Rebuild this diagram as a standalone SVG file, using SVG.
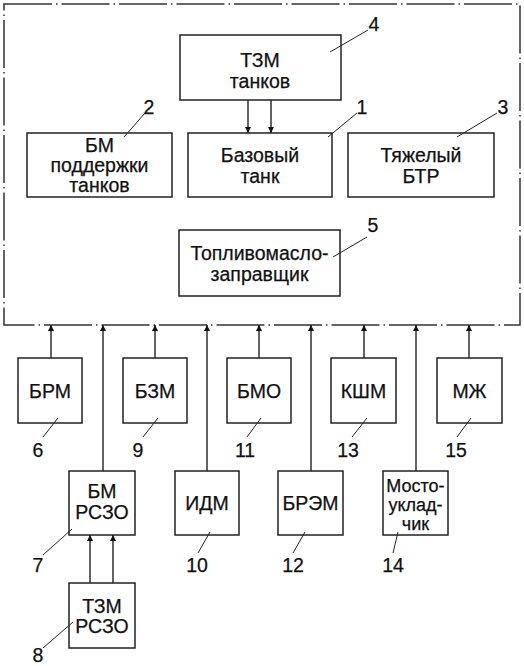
<svg xmlns="http://www.w3.org/2000/svg" width="524" height="666" viewBox="0 0 524 666">
<defs>
<marker id="ah" viewBox="0 0 10 10" refX="10" refY="5" markerWidth="6" markerHeight="9" markerUnits="userSpaceOnUse" orient="auto">
<path d="M0,0 L10,5 L0,10 z" fill="#111"/>
</marker>
</defs>
<style>
rect.b{fill:#fff;stroke:#222;stroke-width:1.5}
text{font-family:"Liberation Sans",Arial,sans-serif;font-size:19.5px;fill:#111;text-anchor:middle;stroke:#111;stroke-width:0.25}
text.n{font-size:19.5px}
text.s{font-size:18px}
.frame{fill:none;stroke:#333;stroke-width:1.5;stroke-dasharray:48 4 1.5 4}
.c line{stroke:#222;stroke-width:1.4}
.ld{stroke:#222;stroke-width:1}
</style>
<rect class="frame" x="4" y="4" width="516" height="321"/>

<g id="n4"><rect class="b" x="180" y="35" width="161" height="65"/><text x="260" y="67">ТЗМ</text><text x="260" y="88">танков</text></g>
<g id="n2"><rect class="b" x="27" y="133" width="145" height="64"/><text x="99.5" y="152">БМ</text><text x="99.5" y="172">поддержки</text><text x="99.5" y="192">танков</text></g>
<g id="n1"><rect class="b" x="188" y="133" width="144" height="64"/><text x="260" y="162">Базовый</text><text x="260" y="183">танк</text></g>
<g id="n3"><rect class="b" x="348" y="133" width="146" height="64"/><text x="421" y="162">Тяжелый</text><text x="421" y="183">БТР</text></g>
<g id="n5"><rect class="b" x="179" y="230" width="161" height="66"/><text x="259.5" y="260">Топливомасло-</text><text x="259.5" y="281">заправщик</text></g>

<g id="n6"><rect class="b" x="18" y="358" width="64" height="65"/><text x="50" y="398">БРМ</text></g>
<g id="n9"><rect class="b" x="123" y="358" width="64" height="65"/><text x="155" y="398">БЗМ</text></g>
<g id="n11"><rect class="b" x="227" y="358" width="64" height="65"/><text x="259" y="398">БМО</text></g>
<g id="n13"><rect class="b" x="331" y="358" width="65" height="65"/><text x="363.5" y="398">КШМ</text></g>
<g id="n15"><rect class="b" x="437" y="358" width="65" height="65"/><text x="469.5" y="398">МЖ</text></g>

<g id="n7"><rect class="b" x="69" y="471" width="66" height="64"/><text x="102" y="498">БМ</text><text x="102" y="519">РСЗО</text></g>
<g id="n10"><rect class="b" x="175" y="471" width="64" height="64"/><text x="207" y="510">ИДМ</text></g>
<g id="n12"><rect class="b" x="278" y="471" width="65" height="64"/><text x="310.5" y="510">БРЭМ</text></g>
<g id="n14"><rect class="b" x="383" y="471" width="65" height="64"/><text class="s" x="415.5" y="492">Мосто-</text><text class="s" x="415.5" y="511">уклад-</text><text class="s" x="415.5" y="530">чик</text></g>
<g id="n8"><rect class="b" x="69" y="583" width="66" height="65"/><text x="102" y="613">ТЗМ</text><text x="102" y="633">РСЗО</text></g>

<g class="c">
<line x1="248" y1="100" x2="248" y2="133" marker-end="url(#ah)"/>
<line x1="271" y1="100" x2="271" y2="133" marker-end="url(#ah)"/>
<line x1="51" y1="358" x2="51" y2="325" marker-end="url(#ah)"/>
<line x1="103" y1="471" x2="103" y2="325" marker-end="url(#ah)"/>
<line x1="155" y1="358" x2="155" y2="325" marker-end="url(#ah)"/>
<line x1="207" y1="471" x2="207" y2="325" marker-end="url(#ah)"/>
<line x1="259" y1="358" x2="259" y2="325" marker-end="url(#ah)"/>
<line x1="311" y1="471" x2="311" y2="325" marker-end="url(#ah)"/>
<line x1="364" y1="358" x2="364" y2="325" marker-end="url(#ah)"/>
<line x1="416" y1="471" x2="416" y2="325" marker-end="url(#ah)"/>
<line x1="469" y1="358" x2="469" y2="325" marker-end="url(#ah)"/>
<line x1="90" y1="583" x2="90" y2="535" marker-end="url(#ah)"/>
<line x1="113" y1="583" x2="113" y2="535" marker-end="url(#ah)"/>
</g>

<g id="labels">
<line class="ld" x1="330" y1="52" x2="368" y2="30"/><text class="n" x="374" y="31">4</text>
<line class="ld" x1="124" y1="137" x2="145" y2="113"/><text class="n" x="149" y="114">2</text>
<line class="ld" x1="328" y1="137" x2="357" y2="113"/><text class="n" x="362" y="114">1</text>
<line class="ld" x1="457" y1="137" x2="497" y2="113"/><text class="n" x="503" y="114">3</text>
<line class="ld" x1="333" y1="257" x2="367" y2="237"/><text class="n" x="373" y="232">5</text>
<line class="ld" x1="58" y1="418" x2="43" y2="437"/><text class="n" x="38" y="457">6</text>
<line class="ld" x1="158" y1="418" x2="143" y2="437"/><text class="n" x="138" y="457">9</text>
<line class="ld" x1="261" y1="418" x2="247" y2="437"/><text class="n" x="245" y="457">11</text>
<line class="ld" x1="367" y1="418" x2="352" y2="437"/><text class="n" x="348" y="457">13</text>
<line class="ld" x1="471" y1="418" x2="457" y2="437"/><text class="n" x="456" y="457">15</text>
<line class="ld" x1="72" y1="529" x2="43" y2="555"/><text class="n" x="38" y="572">7</text>
<line class="ld" x1="210" y1="532" x2="198" y2="553"/><text class="n" x="197" y="572">10</text>
<line class="ld" x1="305" y1="532" x2="293" y2="553"/><text class="n" x="293" y="572">12</text>
<line class="ld" x1="398" y1="532" x2="393" y2="553"/><text class="n" x="393" y="572">14</text>
<line class="ld" x1="73" y1="622" x2="43" y2="648"/><text class="n" x="38" y="662">8</text>
</g>
</svg>
